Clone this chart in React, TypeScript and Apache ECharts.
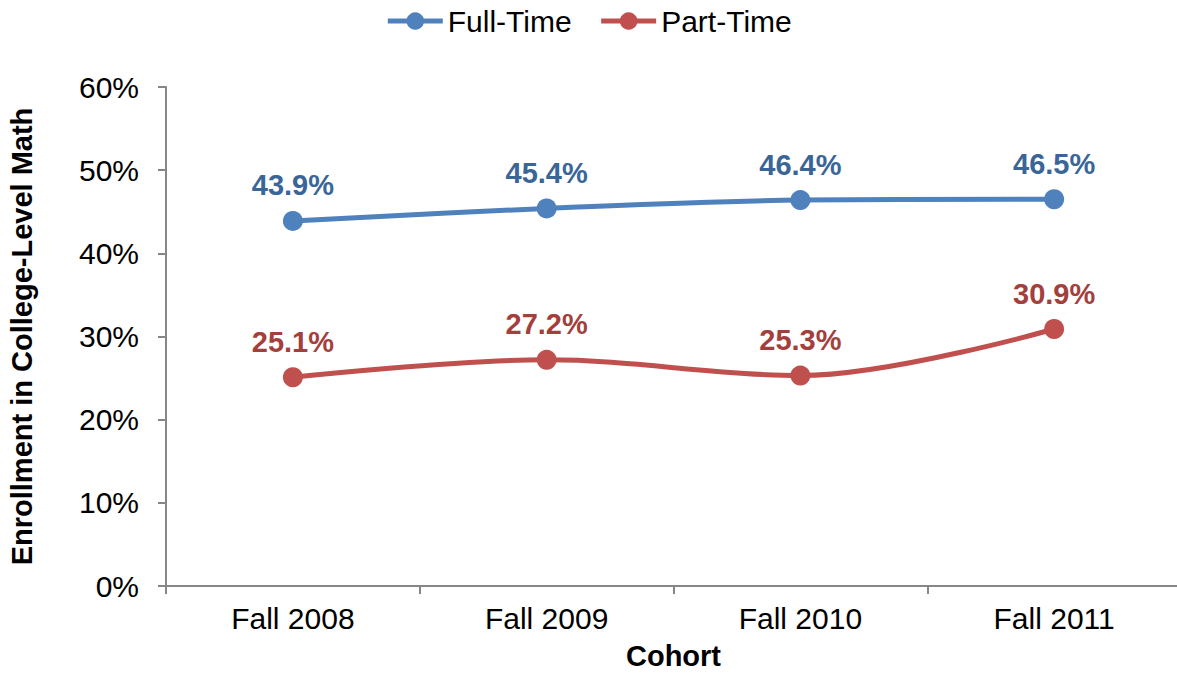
import React, { useEffect, useRef } from "react";
import * as echarts from "echarts";

const categories = ["Fall 2008", "Fall 2009", "Fall 2010", "Fall 2011"];
const fullTime = [43.9, 45.4, 46.4, 46.5];
const partTime = [25.1, 27.2, 25.3, 30.9];
const yTicks = [0, 10, 20, 30, 40, 50, 60];

const FONT = "'Liberation Sans', Arial, sans-serif";

export default function App() {
  const ref = useRef<HTMLDivElement>(null);
  useEffect(() => {
    if (!ref.current) return;
    const chart = echarts.init(ref.current, null, { renderer: "svg" });
    const mkSeries = (name: string, data: number[], color: string, labelColor: string) => ({
      name,
      type: "line",
      data,
      smooth: 0.35,
      symbol: "circle",
      symbolSize: 20,
      lineStyle: { color, width: 5 },
      itemStyle: { color },
      label: {
        show: true,
        position: "top",
        distance: 11,
        formatter: (p: any) => p.value.toFixed(1) + "%",
        color: labelColor,
        fontFamily: FONT,
        fontSize: 29,
        fontWeight: "bold",
      },
    });
    chart.setOption({
      animation: false,
      textStyle: { fontFamily: FONT },
      legend: {
        top: 1,
        left: "center",
        itemWidth: 55,
        itemHeight: 22,
        itemGap: 27,
        lineStyle: { width: 5 },
        textStyle: { fontFamily: FONT, fontSize: 30, color: "#000" },
        data: ["Full-Time", "Part-Time"],
      },
      grid: {
        left: 166,
        right: -4,
        top: 87,
        bottom: 88,
        containLabel: false,
        outerBoundsMode: "none",
      },
      xAxis: {
        type: "category",
        data: categories,
        boundaryGap: true,
        name: "Cohort",
        nameLocation: "middle",
        nameGap: 59,
        nameTextStyle: {
          fontFamily: FONT,
          fontSize: 29,
          lineHeight: 22,
          fontWeight: "bold",
          color: "#000",
        },
        axisLine: { lineStyle: { color: "#868686", width: 2 } },
        axisTick: { show: true, length: 8, lineStyle: { color: "#868686", width: 2 } },
        axisLabel: { fontFamily: FONT, fontSize: 30, color: "#000", margin: 17 },
        splitLine: { show: false },
      },
      yAxis: {
        type: "value",
        min: yTicks[0],
        max: yTicks[yTicks.length - 1],
        interval: 10,
        name: "Enrollment in College-Level Math",
        nameLocation: "middle",
        nameGap: 130,
        nameTextStyle: { fontFamily: FONT, fontSize: 29, fontWeight: "bold", color: "#000" },
        axisLine: { show: true, lineStyle: { color: "#868686", width: 2 } },
        axisTick: { show: true, length: 8, lineStyle: { color: "#868686", width: 2 } },
        axisLabel: {
          fontFamily: FONT,
          fontSize: 30,
          color: "#000",
          margin: 27,
          formatter: (v: number) => v + "%",
        },
        splitLine: { show: false },
      },
      series: [
        mkSeries("Full-Time", fullTime, "#4F81BD", "#3A6597"),
        mkSeries("Part-Time", partTime, "#C0504D", "#A33F3C"),
      ],
    });
    return () => chart.dispose();
  }, []);
  return <div ref={ref} style={{ width: 1177, height: 674, position: "absolute", left: 0, top: 0 }} />;
}
